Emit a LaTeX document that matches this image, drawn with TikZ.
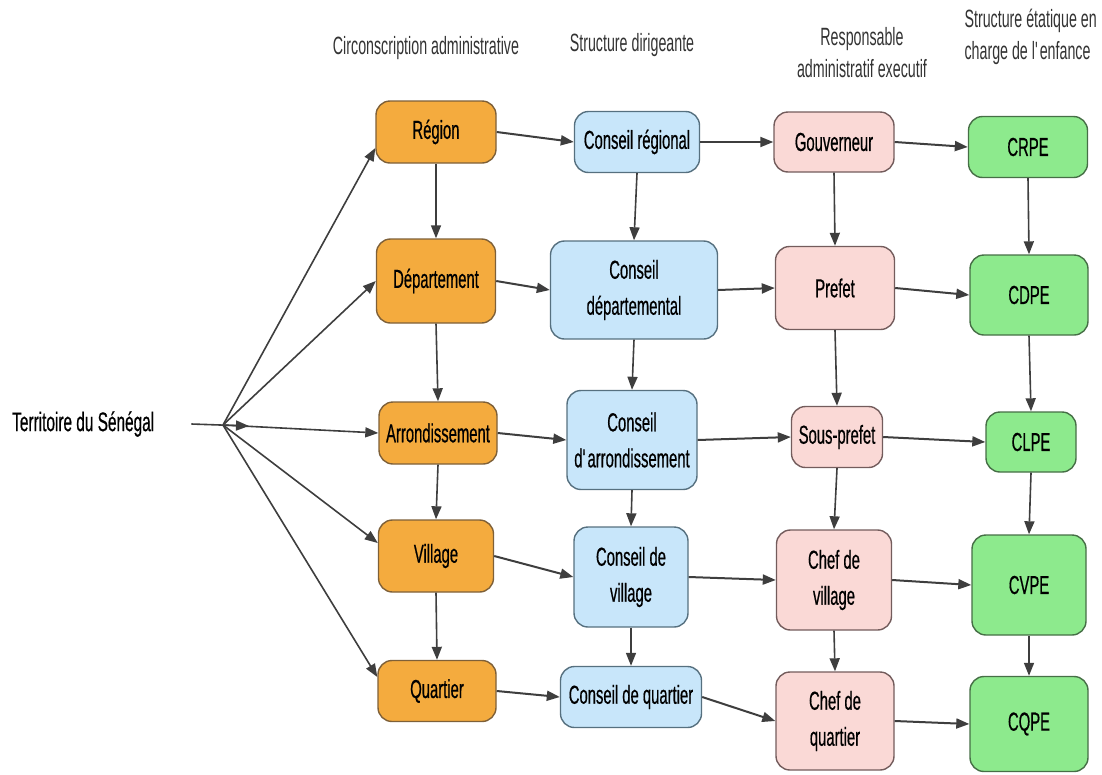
\documentclass[tikz,border=0pt]{standalone}
\usepackage{fontspec}
\setmainfont{Liberation Sans}[FakeStretch=0.57]
\newfontfamily\boxfont{Liberation Sans}[FakeStretch=0.57, FakeBold=0.5]
\usetikzlibrary{arrows.meta}

\definecolor{ofill}{HTML}{F4AB3E}
\definecolor{oline}{HTML}{7E6038}
\definecolor{bfill}{HTML}{C8E6FA}
\definecolor{bline}{HTML}{56707F}
\definecolor{pfill}{HTML}{FAD9D6}
\definecolor{pline}{HTML}{735C5C}
\definecolor{gfill}{HTML}{8DEA8D}
\definecolor{gline}{HTML}{466F46}
\definecolor{lineclr}{HTML}{3E3E3E}
\definecolor{headclr}{HTML}{333333}

\begin{document}
\begin{tikzpicture}[x=1pt,y=-1pt,
  box/.style={draw, rounded corners=14pt, line width=1.4pt, align=center,
    inner sep=0pt, font=\boxfont\fontsize{26}{36}\selectfont},
  obox/.style={box, fill=ofill, draw=oline},
  bbox/.style={box, fill=bfill, draw=bline},
  pbox/.style={box, fill=pfill, draw=pline},
  gbox/.style={box, fill=gfill, draw=gline},
  arr/.style={draw=lineclr, line width=2pt, -{Triangle[length=13pt,width=10pt]}},
  varr/.style={arr, line width=1.6pt},
  fanarr/.style={arr, line width=1.6pt},
  head/.style={font=\fontsize{25}{32}\selectfont, text=headclr, align=center},
]
\useasboundingbox (0,0) rectangle (1102,774);

% column headers
\node[head] (h1) at (426,48) {Circonscription administrative};
\node[head] (h2) at (632,45) {Structure dirigeante};
\node[head] (h3) at (862,53) {Responsable\\administratif executif};
\node[head, align=left, anchor=west] (h4) at (961,37) {Structure étatique en\\charge de l\textquotesingle enfance};

% territory
\node[font=\boxfont\fontsize{27}{30}\selectfont, anchor=west, inner sep=0pt] (terr) at (12,424) {Territoire du Sénégal};
\coordinate (fan) at (223,425);
\coordinate (fanhead) at (249,426);

% administrative divisions
\node[obox, minimum width=120pt, minimum height=62pt] (reg) at (436,132) {Région};
\node[obox, minimum width=119pt, minimum height=84pt] (dep) at (436,281) {Département};
\node[obox, minimum width=118pt, minimum height=62pt] (arrd) at (438,433) {Arrondissement};
\node[obox, minimum width=115pt, minimum height=72pt] (vil) at (436,556) {Village};
\node[obox, minimum width=118pt, minimum height=61pt] (qua) at (437,691) {Quartier};

% governing bodies
\node[bbox, minimum width=125pt, minimum height=61pt] (creg) at (637,142) {Conseil régional};
\node[bbox, minimum width=167pt, minimum height=98pt] (cdep) at (634,290) {Conseil\\départemental};
\node[bbox, minimum width=130pt, minimum height=99pt] (carr) at (632,440) {Conseil\\d\textquotesingle arrondissement};
\node[bbox, minimum width=114pt, minimum height=100pt] (cvil) at (631,577) {Conseil de\\village};
\node[bbox, minimum width=141pt, minimum height=61pt] (cqua) at (631,697) {Conseil de quartier};

% executive officers
\node[pbox, minimum width=120pt, minimum height=60pt] (gouv) at (834,142) {Gouverneur};
\node[pbox, minimum width=119pt, minimum height=83pt] (pref) at (835,288) {Prefet};
\node[pbox, minimum width=91pt, minimum height=61pt] (spref) at (837,437) {Sous-prefet};
\node[pbox, minimum width=115pt, minimum height=100pt] (chvil) at (834,580) {Chef de\\village};
\node[pbox, minimum width=118pt, minimum height=98pt] (chqua) at (835,721) {Chef de\\quartier};

% child protection committees
\node[gbox, minimum width=119pt, minimum height=61pt] (crpe) at (1028,147) {CRPE};
\node[gbox, minimum width=118pt, minimum height=80pt] (cdpe) at (1029,295) {CDPE};
\node[gbox, minimum width=90pt, minimum height=60pt] (clpe) at (1031,442) {CLPE};
\node[gbox, minimum width=114pt, minimum height=100pt] (cvpe) at (1029,585) {CVPE};
\node[gbox, minimum width=118pt, minimum height=95pt] (cqpe) at (1029,724) {CQPE};

% territory fan
\draw[arr, line width=1.6pt] ([xshift=37pt]terr.east) -- (fanhead);
\draw[fanarr] (fan) -- ([yshift=-16pt]reg.west);
\draw[fanarr] (fan) -- (dep.west);
\draw[fanarr] (fan) -- (arrd.west);
\draw[fanarr] (fan) -- ([yshift=13pt]vil.west);
\draw[fanarr] (fan) -- ([yshift=14pt]qua.west);

% row connectors
\foreach \a/\b in {reg/creg, creg/gouv, gouv/crpe,
                   dep/cdep, cdep/pref, pref/cdpe,
                   arrd/carr, carr/spref, spref/clpe,
                   vil/cvil, cvil/chvil, chvil/cvpe,
                   qua/cqua, cqua/chqua, chqua/cqpe}
  \draw[arr] (\a.east) -- (\b.west);

% column connectors
\foreach \a/\b in {reg/dep, dep/arrd, arrd/vil, vil/qua,
                   creg/cdep, cdep/carr, carr/cvil, cvil/cqua,
                   gouv/pref, pref/spref, spref/chvil, chvil/chqua,
                   crpe/cdpe, cdpe/clpe, clpe/cvpe, cvpe/cqpe}
  \draw[varr] (\a.south) -- (\b.north);
\end{tikzpicture}
\end{document}
